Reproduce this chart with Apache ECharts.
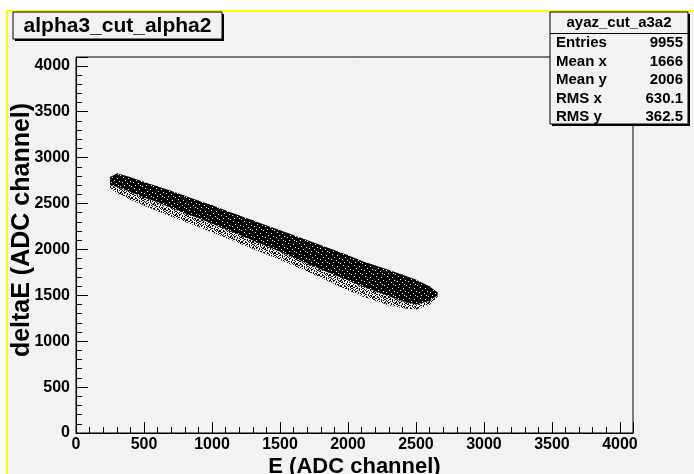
<!DOCTYPE html>
<html>
<head>
<meta charset="utf-8">
<script src="https://cdn.jsdelivr.net/npm/echarts@6/dist/echarts.min.js"></script>
<style>
  html, body { margin: 0; padding: 0; background: #ffffff; }
  #chart { width: 694px; height: 474px; }
</style>
</head>
<body>
<div id="chart"></div>
<script>
// Histogram ayaz_cut_a3a2: deltaE vs E band, sampled along E.
// For each E sample: upper edge of the band, lower edge of the dense core,
// and lower edge of the sparse tail (all in ADC channels).
const bandE     = [250, 300, 400, 500, 600, 700, 800, 900, 1000, 1100, 1200, 1300, 1400, 1500, 1600, 1700, 1800, 1900, 2000, 2100, 2200, 2300, 2400, 2500, 2600, 2660];
const bandTop   = [2790, 2830, 2785, 2735, 2685, 2635, 2585, 2530, 2480, 2425, 2370, 2315, 2260, 2210, 2155, 2100, 2045, 1990, 1935, 1875, 1825, 1775, 1725, 1670, 1595, 1530];
const bandCore  = [2700, 2680, 2625, 2565, 2510, 2450, 2395, 2340, 2280, 2220, 2160, 2095, 2035, 1975, 1910, 1845, 1780, 1720, 1660, 1600, 1545, 1490, 1435, 1400, 1440, 1500];
const bandTail  = [2660, 2610, 2540, 2475, 2415, 2355, 2300, 2245, 2185, 2125, 2065, 2005, 1945, 1885, 1820, 1755, 1690, 1620, 1555, 1490, 1440, 1390, 1360, 1345, 1400, 1480];

// Axis ticks
const majorTicks = [0, 500, 1000, 1500, 2000, 2500, 3000, 3500, 4000];
const axisMax = 4096;

// Title and statistics box
const histTitle = 'alpha3_cut_alpha2';
const statName = 'ayaz_cut_a3a2';
const statLabels = ['Entries', 'Mean x', 'Mean y', 'RMS x', 'RMS y'];
const statValues = ['9955', '1666', '2006', '630.1', '362.5'];

const FONT = '"Liberation Sans", Arial, Helvetica, sans-serif';
const BG = '#f2f2f2';

// Small dither tiles used to fill the band (dense core and sparse tail).
function makeTile(rows) {
  const c = document.createElement('canvas');
  c.width = rows[0].length;
  c.height = rows.length;
  const ctx = c.getContext('2d');
  ctx.fillStyle = '#000000';
  rows.forEach((r, j) => {
    for (let i = 0; i < r.length; i++) if (r[i] === '#') ctx.fillRect(i, j, 1, 1);
  });
  return c;
}
const coreTile = makeTile([
  '###########',
  '##.########',
  '#######.###',
  '###########',
  '####.######',
  '#########.#',
  '#.#########',
  '######.####',
  '###########',
  '###.####.##',
  '##########.'
]);
const tailTile = makeTile([
  '#..##..#.##',
  '.##..#...#.',
  '#...##.#..#',
  '.#.#...#.#.',
  '#.#..#.#...',
  '#..##...#.#',
  '.#.#..#..##',
  '##....#.#..',
  '..##.#...#.',
  '.#...#.##..',
  '#..#..#.#.#'
]);
const corePattern = { image: coreTile, repeat: 'repeat' };
const tailPattern = { image: tailTile, repeat: 'repeat' };

// One item per strip between neighbouring E samples.
const stripData = [];
for (let i = 0; i + 1 < bandE.length; i++) {
  stripData.push([bandE[i], bandTop[i], bandCore[i], bandTail[i],
                  bandE[i + 1], bandTop[i + 1], bandCore[i + 1], bandTail[i + 1]]);
}

function renderStrip(params, api) {
  const e0 = api.value(0), e1 = api.value(4);
  const t0 = api.coord([e0, api.value(1)]), c0 = api.coord([e0, api.value(2)]), l0 = api.coord([e0, api.value(3)]);
  const t1 = api.coord([e1, api.value(5)]), c1 = api.coord([e1, api.value(6)]), l1 = api.coord([e1, api.value(7)]);
  // close the hairline gap between neighbouring strips
  const last = params.dataIndex === stripData.length - 1;
  const pad = last ? 0 : 0.6;
  const r = p => [p[0] + pad, p[1]];
  return {
    type: 'group',
    children: [
      { type: 'polygon', shape: { points: [t0, r(t1), r(c1), c0] }, style: { fill: corePattern, stroke: null } },
      { type: 'polygon', shape: { points: [c0, r(c1), r(l1), l0] }, style: { fill: tailPattern, stroke: null } }
    ]
  };
}

const chart = echarts.init(document.getElementById('chart'), null, { renderer: 'canvas' });

function axisPair(dim) {
  const isX = dim === 'x';
  const common = {
    type: 'value', min: 0, max: axisMax,
    position: isX ? 'bottom' : 'left',
    splitLine: { show: false },
    axisLine: { show: true, lineStyle: { color: '#000', width: 1 } }
  };
  return [
    Object.assign({}, common, {
      interval: 500,
      axisTick: { show: true, inside: true, length: isX ? 11 : 12, lineStyle: { color: '#000', width: 1 } },
      axisLabel: {
        show: true, color: '#000', fontFamily: FONT, fontWeight: 'bold', fontSize: 16,
        margin: isX ? 4 : 6,
        showMaxLabel: true,
        formatter: v => (majorTicks.indexOf(v) >= 0 ? String(v) : '')
      },
      name: isX ? 'E (ADC channel)' : 'deltaE (ADC channel)',
      nameLocation: 'middle',
      nameMoveOverlap: false,
      nameGap: isX ? 23 : 41,
      nameTextStyle: isX
        ? { color: '#000', fontFamily: FONT, fontWeight: 'bold', fontSize: 22 }
        : { color: '#000', fontFamily: FONT, fontWeight: 'bold', fontSize: 25, padding: [0, 0, 0, 30] }
    }),
    Object.assign({}, common, {
      interval: 100,
      axisLine: { show: false },
      axisTick: { show: true, inside: true, length: 6, lineStyle: { color: '#000', width: 1 } },
      axisLabel: { show: false }
    })
  ];
}

function boxGroup(x, y, w, h, children) {
  return {
    type: 'group', x: x, y: y, z: 20,
    children: [
      { type: 'rect', shape: { x: 2, y: 2, width: w, height: h }, style: { fill: '#000' } },
      { type: 'rect', shape: { x: 0, y: 0, width: w, height: h }, style: { fill: BG, stroke: '#000', lineWidth: 1 } }
    ].concat(children)
  };
}

const statChildren = [
  { type: 'text', x: 69, y: 11, style: { text: statName, font: 'bold 15px ' + FONT, fill: '#000', align: 'center', verticalAlign: 'middle' } },
  { type: 'line', shape: { x1: 0, y1: 21.5, x2: 138, y2: 21.5 }, style: { stroke: '#000', lineWidth: 1 } }
];
statLabels.forEach((lab, i) => {
  const yy = 31 + i * 18.5;
  statChildren.push({ type: 'text', x: 6, y: yy, style: { text: lab, font: 'bold 15px ' + FONT, fill: '#000', align: 'left', verticalAlign: 'middle' } });
  statChildren.push({ type: 'text', x: 133, y: yy, style: { text: statValues[i], font: 'bold 15px ' + FONT, fill: '#000', align: 'right', verticalAlign: 'middle' } });
});

const option = {
  backgroundColor: '#ffffff',
  animation: false,
  grid: {
    left: 76, top: 57, width: 557, height: 376,
    outerBoundsMode: 'none', containLabel: false,
    show: true, borderColor: '#000', borderWidth: 1, backgroundColor: 'transparent'
  },
  xAxis: axisPair('x'),
  yAxis: axisPair('y'),
  graphic: [
    { type: 'rect', z: -100, shape: { x: 6, y: 10, width: 700, height: 480 }, style: { fill: BG } },
    { type: 'line', z: -99, shape: { x1: 7, y1: 10, x2: 7, y2: 474 }, style: { stroke: '#ffff00', lineWidth: 2 } },
    { type: 'line', z: -99, shape: { x1: 6, y1: 11, x2: 694, y2: 11 }, style: { stroke: '#ffff00', lineWidth: 2 } },
    boxGroup(13, 12, 209, 27, [
      { type: 'text', x: 104.5, y: 14, style: { text: histTitle, font: 'bold 21px ' + FONT, fill: '#000', align: 'center', verticalAlign: 'middle' } }
    ]),
    boxGroup(550, 12, 138, 112, statChildren)
  ],
  series: [
    {
      type: 'custom', name: statName, data: stripData,
      encode: { x: [0, 4], y: [1, 2, 3, 5, 6, 7] },
      renderItem: renderStrip, silent: true, clip: true
    }
  ]
};
chart.setOption(option);
</script>
</body>
</html>
